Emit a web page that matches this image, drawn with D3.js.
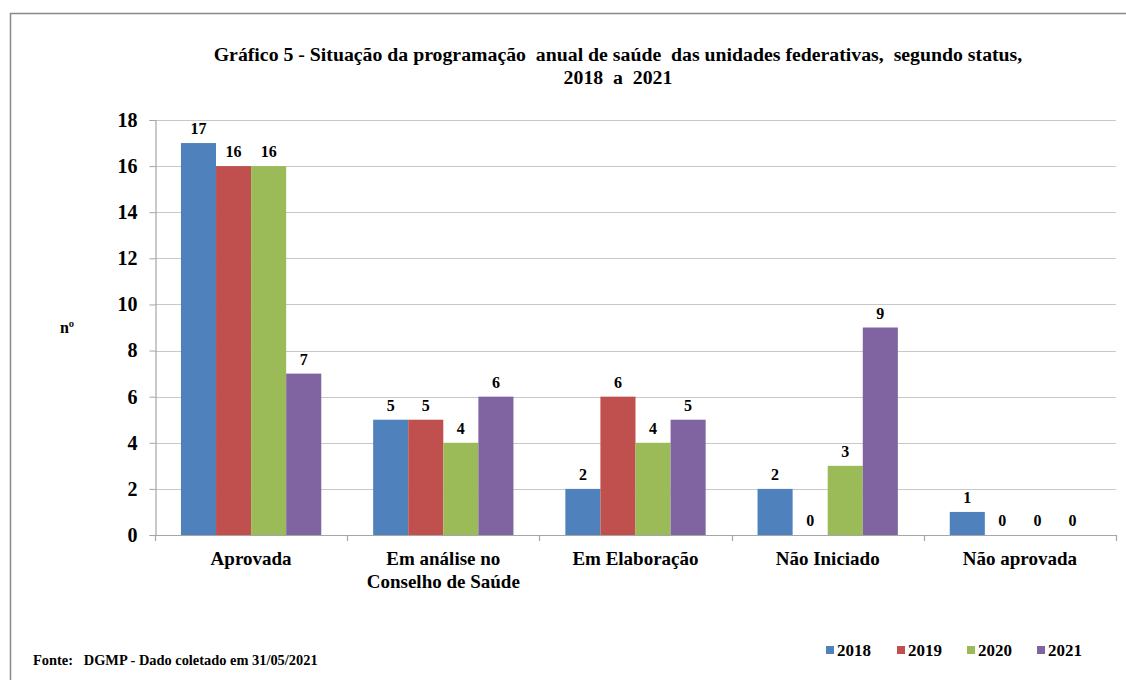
<!DOCTYPE html>
<html>
<head>
<meta charset="utf-8">
<script src="https://cdn.jsdelivr.net/npm/d3@7"></script>
<style>
  html, body { margin: 0; padding: 0; background: #fff; }
</style>
</head>
<body>
<svg id="chart" width="1126" height="680"></svg>
<script>
// Status categories (two-line labels use "\n")
const categories = ["Aprovada", "Em análise no\nConselho de Saúde", "Em Elaboração", "Não Iniciado", "Não aprovada"];
const years = ["2018", "2019", "2020", "2021"];
const values2018 = [17, 5, 2, 2, 1];
const values2019 = [16, 5, 6, 0, 0];
const values2020 = [16, 4, 4, 3, 0];
const values2021 = [7, 6, 5, 9, 0];
const yTicks = [0, 2, 4, 6, 8, 10, 12, 14, 16, 18];
const colors = ["#4F81BD", "#C0504D", "#9BBB59", "#8064A2"];

const FONT = "Liberation Serif";

const seriesValues = [values2018, values2019, values2020, values2021];
const rows = categories.map((c, i) => ({
  category: c,
  values: years.map((y, j) => ({ year: y, value: seriesValues[j][i] }))
}));

const svg = d3.select("#chart")
  .attr("font-family", FONT)
  .attr("font-weight", "bold");

// Outer frame
svg.append("rect")
  .attr("x", 10.5).attr("y", 13.5)
  .attr("width", 1130).attr("height", 700)
  .attr("fill", "none").attr("stroke", "#888").attr("stroke-width", 1.5);

// Title
const title = svg.append("text")
  .attr("text-anchor", "middle")
  .attr("font-family", FONT).attr("font-weight", "bold")
  .attr("font-size", 19.8)
  .attr("fill", "#000")
  .style("white-space", "pre");
title.append("tspan").attr("x", 618).attr("y", 61)
  .text("Gráfico 5 - Situação da programação  anual de saúde  das unidades federativas,  segundo status,");
title.append("tspan").attr("x", 618).attr("y", 84)
  .text("2018  a  2021");

const margin = { left: 155, right: 1116, top: 120, bottom: 535 };

const x0 = d3.scaleBand()
  .domain(categories)
  .range([margin.left, margin.right])
  .paddingInner(0.27)
  .paddingOuter(0.135);

const x1 = d3.scaleBand()
  .domain(years)
  .range([0, x0.bandwidth()]);

const y = d3.scaleLinear()
  .domain([0, 18])
  .range([margin.bottom, margin.top]);

// Horizontal gridlines
svg.append("g")
  .selectAll("line")
  .data(yTicks.filter(t => t > 0))
  .join("line")
  .attr("x1", margin.left).attr("x2", margin.right)
  .attr("y1", d => Math.round(y(d)) + 0.5).attr("y2", d => Math.round(y(d)) + 0.5)
  .attr("stroke", "#C8C8C8").attr("stroke-width", 1.2);

// Y axis
const yAxis = svg.append("g")
  .attr("transform", `translate(${margin.left + 0.5},0)`)
  .call(d3.axisLeft(y).tickValues(yTicks).tickSize(6).tickPadding(12).tickFormat(d3.format("d")));
yAxis.attr("font-family", FONT).attr("font-size", 20);
yAxis.select(".domain").attr("stroke", "#A6A6A6").attr("stroke-width", 1.2);
yAxis.selectAll(".tick line").attr("stroke", "#A6A6A6");
yAxis.selectAll(".tick text")
  .attr("font-family", FONT)
  .attr("font-weight", "bold").attr("font-size", 20).attr("fill", "#000");

// Y axis label
svg.append("text")
  .attr("x", 67).attr("y", 333)
  .attr("text-anchor", "middle")
  .attr("font-family", FONT).attr("font-weight", "bold")
  .attr("font-size", 16)
  .text("nº");

// Bars
const groups = svg.append("g")
  .selectAll("g")
  .data(rows)
  .join("g")
  .attr("transform", d => `translate(${x0(d.category)},0)`);

groups.selectAll("rect")
  .data(d => d.values)
  .join("rect")
  .attr("x", d => x1(d.year))
  .attr("width", x1.bandwidth())
  .attr("y", d => y(d.value))
  .attr("height", d => y(0) - y(d.value))
  .attr("fill", (d, i) => colors[i]);

groups.selectAll("text")
  .data(d => d.values)
  .join("text")
  .attr("x", d => x1(d.year) + x1.bandwidth() / 2)
  .attr("y", d => y(d.value) - 9)
  .attr("text-anchor", "middle")
  .attr("font-family", FONT).attr("font-weight", "bold")
  .attr("font-size", 16)
  .attr("fill", "#000")
  .text(d => d.value);

// X axis
const xAxisG = svg.append("g");
xAxisG.append("line")
  .attr("x1", margin.left).attr("x2", margin.right)
  .attr("y1", margin.bottom + 0.5).attr("y2", margin.bottom + 0.5)
  .attr("stroke", "#A6A6A6").attr("stroke-width", 1.2);
const step = x0.step();
const boundaries = categories.map(c => x0(c) - x0.paddingInner() * step / 2);
boundaries.push(margin.right);
xAxisG.selectAll("line.tick")
  .data(boundaries)
  .join("line")
  .attr("class", "tick")
  .attr("x1", d => Math.round(d) + 0.5).attr("x2", d => Math.round(d) + 0.5)
  .attr("y1", margin.bottom).attr("y2", margin.bottom + 6)
  .attr("stroke", "#A6A6A6").attr("stroke-width", 1.2);

const catLabels = xAxisG.selectAll("text")
  .data(categories)
  .join("text")
  .attr("text-anchor", "middle")
  .attr("font-family", FONT).attr("font-weight", "bold")
  .attr("font-size", 19)
  .attr("fill", "#000");
catLabels.each(function(d) {
  const cx = x0(d) + x0.bandwidth() / 2;
  d.split("\n").forEach((line, i) => {
    d3.select(this).append("tspan")
      .attr("x", cx)
      .attr("y", 565 + i * 23)
      .text(line);
  });
});

// Legend
const legendX = [826, 897, 967, 1037];
const legend = svg.append("g")
  .selectAll("g")
  .data(years)
  .join("g")
  .attr("transform", (d, i) => `translate(${legendX[i]},650)`);
legend.append("rect")
  .attr("x", 0).attr("y", -4)
  .attr("width", 8).attr("height", 8)
  .attr("fill", (d, i) => colors[i]);
legend.append("text")
  .attr("x", 11).attr("y", 6)
  .attr("font-family", FONT).attr("font-weight", "bold")
  .attr("font-size", 17)
  .attr("fill", "#000")
  .text(d => d);

// Source note
svg.append("text")
  .attr("x", 33).attr("y", 665)
  .attr("font-family", FONT).attr("font-weight", "bold")
  .attr("font-size", 14.4)
  .attr("fill", "#000")
  .style("white-space", "pre")
  .text("Fonte:   DGMP - Dado coletado em 31/05/2021");
</script>
</body>
</html>
